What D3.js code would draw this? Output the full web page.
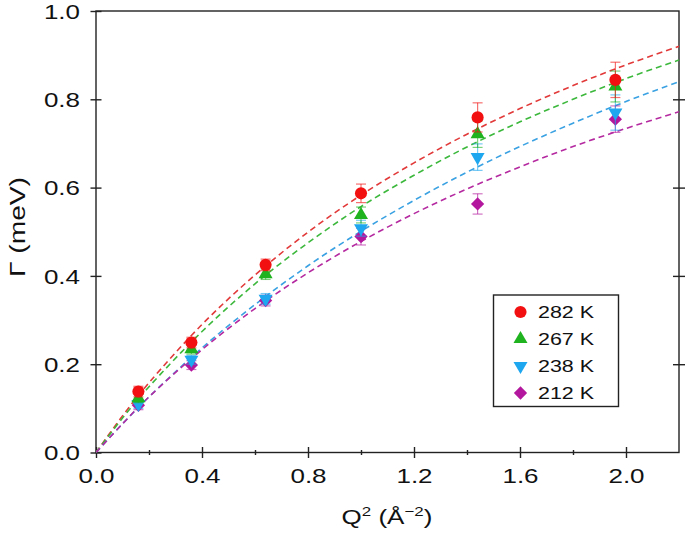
<!DOCTYPE html>
<html><head><meta charset="utf-8">
<script src="https://cdn.jsdelivr.net/npm/d3@7"></script>
<style>body{margin:0;background:#fff}svg{display:block}text{font-family:"Liberation Sans",Arial,Helvetica,sans-serif;fill:#111}</style>
</head><body><svg id="c" width="685" height="534"></svg>
<script>
// Data
const q2 = [0.16, 0.36, 0.64, 1.0, 1.44, 1.96];
const labels = ["282 K", "267 K", "238 K", "212 K"];
const g282 = [0.138, 0.249, 0.425, 0.587, 0.759, 0.844];
const g267 = [0.123, 0.234, 0.404, 0.538, 0.721, 0.829];
const g238 = [0.110, 0.210, 0.348, 0.508, 0.669, 0.770];
const g212 = [0.107, 0.198, 0.344, 0.489, 0.563, 0.755];
const e282 = [0.012, 0.012, 0.013, 0.021, 0.033, 0.040];
const e267 = [0.010, 0.011, 0.012, 0.018, 0.030, 0.035];
const e238 = [0.010, 0.010, 0.012, 0.018, 0.030, 0.040];
const e212 = [0.010, 0.010, 0.012, 0.019, 0.023, 0.030];
// fitted curves
const fitQ2  = [0, 0.1, 0.2, 0.4, 0.6, 0.8, 1.0, 1.2, 1.4, 1.6, 1.8, 2.0, 2.2];
const fit282 = [0, 0.083, 0.158, 0.290, 0.402, 0.499, 0.583, 0.656, 0.721, 0.779, 0.831, 0.878, 0.920];
const fit267 = [0, 0.078, 0.149, 0.274, 0.382, 0.475, 0.557, 0.628, 0.692, 0.749, 0.800, 0.847, 0.889];
const fit238 = [0, 0.065, 0.126, 0.237, 0.335, 0.423, 0.501, 0.571, 0.635, 0.693, 0.746, 0.795, 0.840];
const fit212 = [0, 0.065, 0.126, 0.233, 0.326, 0.407, 0.478, 0.541, 0.597, 0.647, 0.693, 0.734, 0.772];
const xMajor = [0, 0.4, 0.8, 1.2, 1.6, 2.0];
const xMinor = [0.2, 0.6, 1.0, 1.4, 1.8];
const yTicks = [0, 0.2, 0.4, 0.6, 0.8, 1.0];

const series = [
  {name: labels[0], y: g282, e: e282, fit: fit282, color: "#f21010", line: "#e23a3a", sym: "circle"},
  {name: labels[1], y: g267, e: e267, fit: fit267, color: "#1fb31f", line: "#3cb83c", sym: "tri"},
  {name: labels[2], y: g238, e: e238, fit: fit238, color: "#1ea6ee", line: "#3aa2e2", sym: "tridown"},
  {name: labels[3], y: g212, e: e212, fit: fit212, color: "#b3179d", line: "#b52aa0", sym: "diamond"}
];

const svg = d3.select("#c");
const L = 96, R = 679, T = 11, B = 452.5;
const x = d3.scaleLinear().domain([0, 2.2]).range([L, R]);
const y = d3.scaleLinear().domain([0, 1.0]).range([B, T]);
const SX = 1.3;

function symPath(s) {
  if (s === "circle") return d3.symbol(d3.symbolCircle, 115)();
  if (s === "tri" || s === "tridown") return d3.symbol(d3.symbolTriangle, 85)();
  return d3.symbol(d3.symbolSquare, 88)();
}
function symRot(s) { return s === "tridown" ? 180 : (s === "diamond" ? 45 : 0); }

// frame
svg.append("rect").attr("x", L).attr("y", T).attr("width", R - L).attr("height", B - T)
  .attr("fill", "none").attr("stroke", "#222").attr("stroke-width", 1.4);

// axes
const gx = svg.append("g").attr("transform", `translate(0,${B})`)
  .call(d3.axisBottom(x).tickValues(xMajor).tickFormat(d3.format(".1f")).tickSize(5.5).tickSizeOuter(0));
gx.selectAll(".tick line").attr("y1", -5.5);
gx.selectAll(".tick text").attr("y", 30.5).attr("dy", 0).attr("font-size", 20)
  .attr("transform", `scale(${SX},1)`);
const gxm = svg.append("g").attr("transform", `translate(0,${B})`)
  .call(d3.axisBottom(x).tickValues(xMinor).tickFormat("").tickSize(2.5).tickSizeOuter(0));
gxm.selectAll(".tick line").attr("y1", -2.5);

const gy = svg.append("g").attr("transform", `translate(${L},0)`)
  .call(d3.axisLeft(y).tickValues(yTicks).tickFormat(d3.format(".1f")).tickSize(5.5).tickSizeOuter(0));
gy.selectAll(".tick line").attr("x1", 5.5);
gy.selectAll(".tick text").attr("x", -16 / SX).attr("dy", "0.36em").attr("font-size", 20)
  .attr("transform", `scale(${SX},1)`);
const gr = svg.append("g").attr("transform", `translate(${R},0)`)
  .call(d3.axisRight(y).tickValues(yTicks.slice(1, 5)).tickFormat("").tickSize(6).tickSizeOuter(0));
gr.selectAll(".tick line").attr("x1", -6);
[gx, gxm, gy, gr].forEach(g => {
  g.select(".domain").remove();
  g.selectAll("line").attr("stroke", "#222").attr("stroke-width", 1.4);
  g.selectAll("text").attr("fill", "#111").attr("font-family", '"Liberation Sans",Arial,sans-serif');
});

// fit lines
const lineGen = d3.line().x(d => x(d[0])).y(d => y(d[1])).curve(d3.curveCatmullRom);
svg.append("clipPath").attr("id", "clp").append("rect")
  .attr("x", L).attr("y", T).attr("width", R - L).attr("height", B - T);
series.forEach(s => {
  svg.append("path").attr("clip-path", "url(#clp)")
    .attr("d", lineGen(fitQ2.map((q, i) => [q, s.fit[i]])))
    .attr("fill", "none").attr("stroke", s.line).attr("stroke-width", 1.6)
    .attr("stroke-dasharray", "6,4");
});

// points (draw 212 first, 282 last)
series.slice().reverse().forEach(s => {
  const g = svg.append("g");
  q2.forEach((q, i) => {
    const cx = x(q), y0 = y(s.y[i] - s.e[i]), y1 = y(s.y[i] + s.e[i]);
    const eg = g.append("g").attr("stroke", s.color).attr("stroke-opacity", 0.6).attr("stroke-width", 1.2);
    eg.append("line").attr("x1", cx).attr("x2", cx).attr("y1", y0).attr("y2", y1);
    eg.append("line").attr("x1", cx - 5).attr("x2", cx + 5).attr("y1", y0).attr("y2", y0);
    eg.append("line").attr("x1", cx - 5).attr("x2", cx + 5).attr("y1", y1).attr("y2", y1);
    g.append("path").attr("d", symPath(s.sym))
      .attr("transform", `translate(${cx},${y(s.y[i])}) rotate(${symRot(s.sym)})`)
      .attr("fill", s.color);
  });
});

// legend
const lg = svg.append("g");
lg.append("rect").attr("x", 493.5).attr("y", 295).attr("width", 125).attr("height", 111.5)
  .attr("fill", "#fff").attr("stroke", "#222").attr("stroke-width", 1.4);
series.forEach((s, i) => {
  const ry = 312 + i * 27;
  lg.append("path").attr("d", symPath(s.sym))
    .attr("transform", `translate(520.5,${ry}) rotate(${symRot(s.sym)})`).attr("fill", s.color);
  lg.append("text").attr("x", 538 / SX).attr("y", ry + 6).attr("font-size", 16.5)
    .attr("transform", `scale(${SX},1)`).text(s.name);
});

// axis titles
const xt = svg.append("text").attr("x", 387 / SX).attr("y", 524).attr("font-size", 20)
  .attr("text-anchor", "middle").attr("transform", `scale(${SX},1)`);
xt.append("tspan").text("Q");
xt.append("tspan").attr("dy", -8).attr("font-size", 13).text("2");
xt.append("tspan").attr("dy", 8).text(" (Å");
xt.append("tspan").attr("dy", -8).attr("font-size", 13).text("−2");
xt.append("tspan").attr("dy", 8).text(")");

svg.append("text").attr("transform", "translate(25,227) rotate(-90)")
  .attr("text-anchor", "middle").attr("font-size", 22)
  .attr("textLength", 100).attr("lengthAdjust", "spacingAndGlyphs")
  .text("Γ (meV)");
</script></body></html>
